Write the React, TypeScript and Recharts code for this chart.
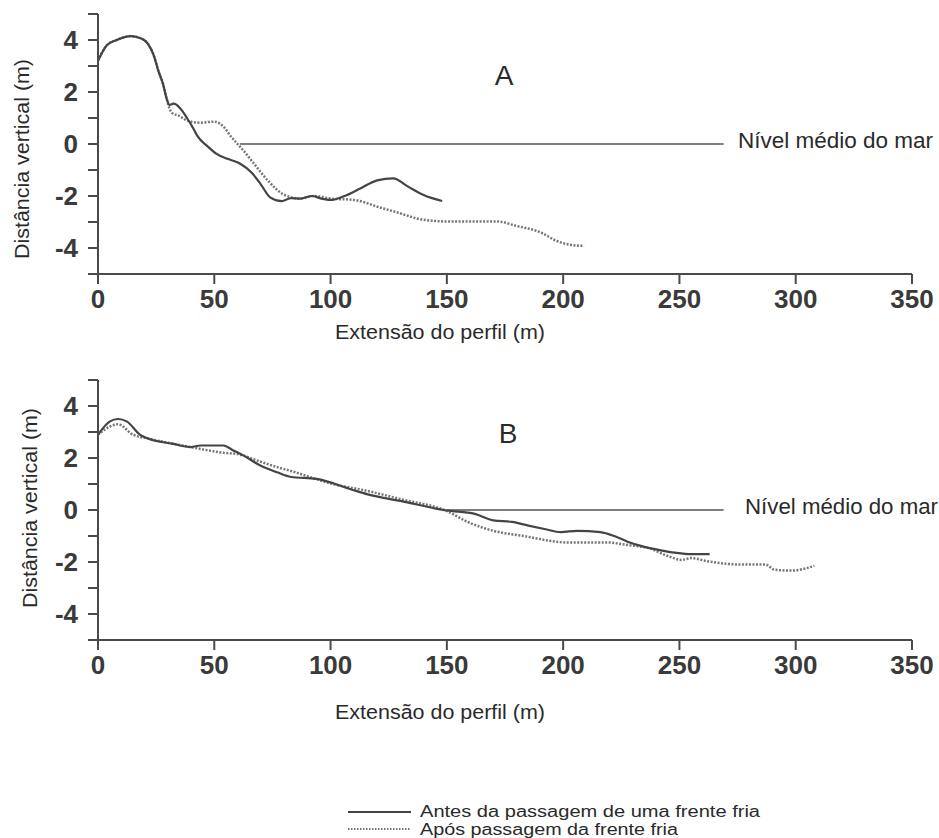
import { LineChart, Line, XAxis, YAxis, ReferenceLine } from "recharts";

// perfil A - antes da frente fria
const antesA: [number, number][] = [
  [0, 3.2], [3.8, 3.8], [8, 4.0], [14, 4.15], [18, 4.08], [21.5, 3.85], [24, 3.4],
  [26, 2.8], [28, 2.3], [29.5, 1.75], [30.8, 1.5], [32.5, 1.55], [35.4, 1.37],
  [38.4, 0.98], [40.6, 0.66], [42.7, 0.31], [47, -0.08], [51, -0.38], [55.7, -0.57],
  [61, -0.75], [66, -1.1], [70, -1.55], [74, -2.05], [79, -2.2], [83, -2.08],
  [87, -2.1], [92, -2.0], [96, -2.1], [100, -2.15], [106, -2.0], [113, -1.7],
  [120, -1.4], [127, -1.32], [133, -1.62], [140, -1.96], [148, -2.19],
];

// perfil A - após a frente fria
const aposA: [number, number][] = [
  [0, 3.2], [3.8, 3.8], [8, 4.0], [14, 4.15], [18, 4.08], [21.5, 3.85], [24, 3.4],
  [26, 2.8], [28, 2.3], [29.5, 1.75], [30.8, 1.35], [32, 1.18], [34.5, 1.1],
  [38.4, 0.9], [44, 0.82], [50, 0.86], [54, 0.66], [57, 0.31], [60, 0],
  [62.7, -0.27], [67, -0.75], [73, -1.4], [80, -1.95], [87, -2.1], [93, -2.0],
  [100, -2.1], [110, -2.15], [121.5, -2.45], [129, -2.64], [139, -2.9],
  [150.5, -2.98], [172, -2.98], [179, -3.13], [191, -3.43], [196.5, -3.7],
  [204, -3.89], [209, -3.92],
];

// perfil B - antes da frente fria
const antesB: [number, number][] = [
  [0, 2.9], [5, 3.4], [8.6, 3.5], [12.5, 3.4], [18, 2.9], [21.5, 2.75], [32, 2.55],
  [40, 2.42], [44, 2.48], [54, 2.48], [58, 2.3], [62.5, 2.1], [70, 1.7], [77, 1.45],
  [83, 1.27], [94, 1.2], [108.6, 0.8], [116, 0.6], [130, 0.35], [150, -0.02],
  [162, -0.15], [170, -0.4], [178, -0.46], [185, -0.6], [192, -0.73], [199, -0.85],
  [206, -0.8], [216, -0.85], [222, -1.0], [228, -1.23], [235, -1.42], [242, -1.55],
  [248, -1.64], [255, -1.7], [263, -1.7],
];

// perfil B - após a frente fria
const aposB: [number, number][] = [
  [0, 2.9], [5, 3.2], [8.6, 3.3], [15, 2.9], [21.5, 2.75], [40, 2.42], [44, 2.35],
  [54, 2.2], [60, 2.15], [68.5, 1.9], [77, 1.65], [83, 1.5], [101, 1.0],
  [116, 0.73], [130, 0.42], [150, -0.04], [159, -0.46], [170, -0.8], [183, -1.0],
  [202, -1.25], [219, -1.25], [228, -1.35], [237, -1.47], [245, -1.77],
  [251, -1.92], [255, -1.85], [262, -1.97], [277, -2.1], [287, -2.1],
  [291, -2.3], [298, -2.33], [308, -2.15],
];

// nível médio do mar (início e fim do traço)
const seaLevelA = [61, 269];
const seaLevelB = [150, 269];

const xTicks = [0, 50, 100, 150, 200, 250, 300, 350];
const yTicks = [-5, -4, -3, -2, -1, 0, 1, 2, 3, 4, 5];
const yLabeled = [-4, -2, 0, 2, 4];

const FONT = '"Liberation Sans", Arial, Helvetica, sans-serif';
const AXIS = "#4a4a4a";
const TEXT = "#2a2a2a";

const toPoints = (pts: [number, number][]) => pts.map(([x, y]) => ({ x, y }));

interface PanelProps {
  antes: [number, number][];
  apos: [number, number][];
  sea: number[];
}

function Panel({ antes, apos, sea }: PanelProps) {
  return (
    <LineChart
      width={939}
      height={360}
      margin={{ top: 14, right: 27, bottom: 20, left: 0 }}
      style={{ fontFamily: FONT }}
    >
      <XAxis
        type="number"
        dataKey="x"
        domain={[0, 350]}
        ticks={xTicks}
        interval={0}
        height={66}
        tickSize={10}
        tickMargin={6}
        stroke={AXIS}
        strokeWidth={2}
        tick={{ fontSize: 26, fill: "#3a3a3a", fontWeight: "bold" }}
      />
      <YAxis
        type="number"
        domain={[-5, 5]}
        ticks={yTicks}
        interval={0}
        width={98}
        tickSize={10}
        tickMargin={10}
        stroke={AXIS}
        strokeWidth={2}
        tickFormatter={(v: number) => (yLabeled.includes(v) ? String(v) : "")}
        tick={{ fontSize: 26, fill: "#3a3a3a", fontWeight: "bold" }}
      />
      <ReferenceLine
        segment={[{ x: sea[0], y: 0 }, { x: sea[1], y: 0 }]}
        stroke="#555"
        strokeWidth={1.5}
      />
      <Line
        data={toPoints(apos)}
        dataKey="y"
        type="monotone"
        stroke="#777"
        strokeWidth={2.5}
        strokeDasharray="2 1.5"
        dot={false}
        isAnimationActive={false}
      />
      <Line
        data={toPoints(antes)}
        dataKey="y"
        type="monotone"
        stroke="#444"
        strokeWidth={2.2}
        dot={false}
        isAnimationActive={false}
      />
    </LineChart>
  );
}

export default function App() {
  return (
    <div
      style={{
        position: "absolute",
        left: 0,
        top: 0,
        width: 939,
        height: 838,
        background: "#fff",
        overflow: "hidden",
        fontFamily: FONT,
      }}
    >
      <div style={{ position: "absolute", left: 0, top: 0 }}>
        <Panel antes={antesA} apos={aposA} sea={seaLevelA} />
      </div>
      <div style={{ position: "absolute", left: 0, top: 366 }}>
        <Panel antes={antesB} apos={aposB} sea={seaLevelB} />
      </div>
      <svg
        width={939}
        height={838}
        style={{ position: "absolute", left: 0, top: 0, pointerEvents: "none" }}
        fontFamily={FONT}
        fill={TEXT}
      >
        <text x={504} y={85} fontSize={28} textAnchor="middle">A</text>
        <text x={508} y={443} fontSize={28} textAnchor="middle">B</text>
        <text x={738} y={148} fontSize={22} textLength={195} lengthAdjust="spacingAndGlyphs">
          Nível médio do mar
        </text>
        <text x={745} y={514} fontSize={22} textLength={193} lengthAdjust="spacingAndGlyphs">
          Nível médio do mar
        </text>
        <text x={335} y={339} fontSize={20} textLength={210} lengthAdjust="spacingAndGlyphs">
          Extensão do perfil (m)
        </text>
        <text x={335} y={719} fontSize={20} textLength={210} lengthAdjust="spacingAndGlyphs">
          Extensão do perfil (m)
        </text>
        <text
          x={29}
          y={159}
          fontSize={20}
          textAnchor="middle"
          textLength={200}
          lengthAdjust="spacingAndGlyphs"
          transform="rotate(-90 29 159)"
        >
          Distância vertical (m)
        </text>
        <text
          x={37}
          y={508}
          fontSize={20}
          textAnchor="middle"
          textLength={200}
          lengthAdjust="spacingAndGlyphs"
          transform="rotate(-90 37 508)"
        >
          Distância vertical (m)
        </text>
        <line x1={348} x2={411} y1={812} y2={812} stroke="#444" strokeWidth={2} />
        <line x1={348} x2={411} y1={829} y2={829} stroke="#777" strokeWidth={2} strokeDasharray="1.5 1.5" />
        <text x={420} y={817} fontSize={16} textLength={340} lengthAdjust="spacingAndGlyphs">
          Antes da passagem de uma frente fria
        </text>
        <text x={420} y={835} fontSize={16} textLength={258} lengthAdjust="spacingAndGlyphs">
          Após passagem da frente fria
        </text>
      </svg>
    </div>
  );
}
